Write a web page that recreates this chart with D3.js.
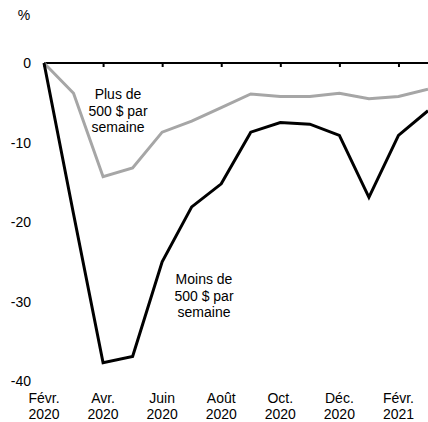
<!DOCTYPE html>
<html>
<head>
<meta charset="utf-8">
<script src="https://cdn.jsdelivr.net/npm/d3@7"></script>
<style>
  body { margin: 0; background: #fff; }
  svg { display: block; font-family: "Liberation Sans", Arial, sans-serif; }
</style>
</head>
<body>
<svg width="428" height="422"></svg>
<script>
var months = ["2020-02","2020-03","2020-04","2020-05","2020-06","2020-07","2020-08",
  "2020-09","2020-10","2020-11","2020-12","2021-01","2021-02","2021-03"];
var plusDe500 = [0, -3.8, -14.3, -13.2, -8.7, -7.3, -5.6, -3.9, -4.2, -4.2, -3.8, -4.5, -4.2, -3.3];
var moinsDe500 = [0, -19.0, -37.7, -36.9, -25.0, -18.1, -15.2, -8.7, -7.5, -7.7, -9.1, -16.9, -9.1, -6.0];
var yTicks = [0, -10, -20, -30, -40];
var xTickLabels = [["Févr.", "2020"], ["Avr.", "2020"], ["Juin", "2020"], ["Août", "2020"],
  ["Oct.", "2020"], ["Déc.", "2020"], ["Févr.", "2021"]];

var svg = d3.select("svg");

var x = d3.scaleLinear().domain([0, 13]).range([44, 428]);
var y = d3.scaleLinear().domain([0, -40]).range([63, 381]);

// y labels
svg.selectAll("text.ylab").data(yTicks).enter().append("text")
  .attr("class", "ylab")
  .attr("x", 31)
  .attr("y", function(d){ return y(d) + 5; })
  .attr("text-anchor", "end")
  .attr("font-size", 14)
  .text(function(d){ return d; });

svg.append("text").attr("x", 24).attr("y", 20).attr("text-anchor", "middle")
  .attr("font-size", 14).text("%");

// zero axis with ticks every 2 months
var axis = d3.axisBottom(x).tickValues([0, 2, 4, 6, 8, 10, 12]).tickSize(4).tickFormat("");
var g = svg.append("g").attr("transform", "translate(0," + y(0) + ")").call(axis);
g.select(".domain").remove();
g.selectAll(".tick line").attr("stroke", "#000").attr("stroke-width", 2);
svg.append("line")
  .attr("x1", x(0)).attr("x2", x(13))
  .attr("y1", y(0)).attr("y2", y(0))
  .attr("stroke", "#000").attr("stroke-width", 2);

// x labels
var xl = svg.selectAll("text.xlab").data(xTickLabels).enter().append("text")
  .attr("class", "xlab")
  .attr("text-anchor", "middle")
  .attr("font-size", 14);
xl.append("tspan").attr("x", function(d, i){ return x(i * 2); }).attr("y", 403)
  .text(function(d){ return d[0]; });
xl.append("tspan").attr("x", function(d, i){ return x(i * 2); }).attr("y", 419)
  .text(function(d){ return d[1]; });

var line = d3.line().x(function(d, i){ return x(i); }).y(function(d){ return y(d); });

svg.append("path").datum(plusDe500)
  .attr("d", line).attr("fill", "none")
  .attr("stroke", "#a6a6a6").attr("stroke-width", 3).attr("stroke-linejoin", "miter");

svg.append("path").datum(moinsDe500)
  .attr("d", line).attr("fill", "none")
  .attr("stroke", "#000").attr("stroke-width", 3).attr("stroke-linejoin", "miter");

// series labels
var addLabel = function(lines, cx, y0){
  var t = svg.append("text").attr("text-anchor", "middle").attr("font-size", 14);
  lines.forEach(function(s, i){
    t.append("tspan").attr("x", cx).attr("y", y0 + i * 16.5).text(s);
  });
};
addLabel(["Plus de", "500 $ par", "semaine"], 118, 99);
addLabel(["Moins de", "500 $ par", "semaine"], 204, 284);
</script>
</body>
</html>
